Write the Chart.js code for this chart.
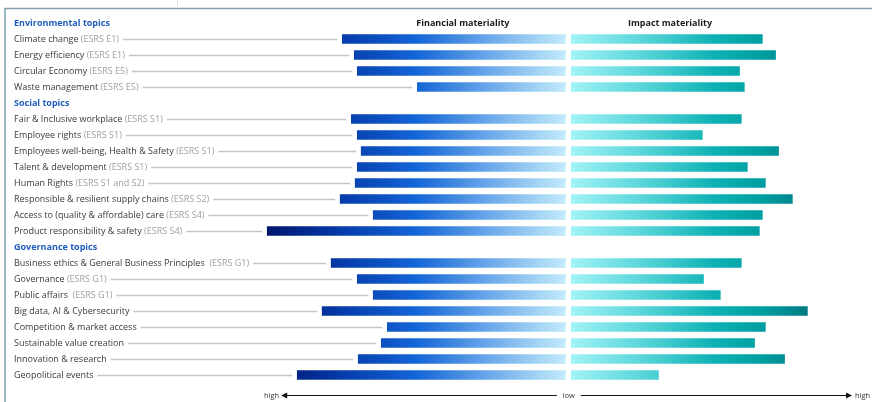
<!DOCTYPE html>
<html><head><meta charset="utf-8">
<script src="https://cdn.jsdelivr.net/npm/chart.js@4.4.1/dist/chart.umd.min.js"></script>
<style>html,body{margin:0;padding:0;background:#fff;overflow:hidden}</style>
</head><body>
<canvas id="c" width="872" height="402"></canvas>
<script>
// ---- data ----
const topics = [
  'Environmental topics',
  'Climate change','Energy efficiency','Circular Economy','Waste management',
  'Social topics',
  'Fair & Inclusive workplace','Employee rights','Employees well-being, Health & Safety','Talent & development',
  'Human Rights','Responsible & resilient supply chains','Access to (quality & affordable) care','Product responsibility & safety',
  'Governance topics',
  'Business ethics & General Business Principles','Governance','Public affairs','Big data, AI & Cybersecurity',
  'Competition & market access','Sustainable value creation','Innovation & research','Geopolitical events'
];
const esrsCodes = [
  '',
  '(ESRS E1)','(ESRS E1)','(ESRS E5)','(ESRS E5)',
  '',
  '(ESRS S1)','(ESRS S1)','(ESRS S1)','(ESRS S1)',
  '(ESRS S1 and S2)','(ESRS S2)','(ESRS S4)','(ESRS S4)',
  '',
  ' (ESRS G1)','(ESRS G1)',' (ESRS G1)','',
  '','','',''
];
const sectionHeaders = ['Environmental topics','Social topics','Governance topics'];
const financialMateriality = [
  null, 7.5, 7.1, 7.0, 5.0,
  null, 7.2, 7.0, 6.87, 7.0, 7.07, 7.57, 6.47, 10.0,
  null, 7.87, 7.0, 6.47, 8.17, 6.0, 6.2, 6.97, 9.0
];
const impactMateriality = [
  null, 6.43, 6.87, 5.67, 5.83,
  null, 5.73, 4.43, 6.97, 5.93, 6.53, 7.43, 6.43, 6.33,
  null, 5.73, 4.47, 5.03, 7.93, 6.53, 6.17, 7.17, 2.97
];
const axisLabels = ['high','low','high'];
const panelTitles = ['Financial materiality','Impact materiality'];

// ---- chart ----
const GAP_L = 0.08, GAP_R = 0.05;
const finBars = financialMateriality.map(v => v == null ? null : [-GAP_L, -GAP_L - v]);
const impBars = impactMateriality.map(v => v == null ? null : [GAP_R, GAP_R + v]);

function finGradient(c) {
  const ch = c.chart; if (!ch.chartArea) return '#1565d6';
  const sx = ch.scales.x;
  const g = ch.ctx.createLinearGradient(sx.getPixelForValue(-10.1), 0, sx.getPixelForValue(0), 0);
  g.addColorStop(0, '#00156c');
  g.addColorStop(0.22, '#0436a4');
  g.addColorStop(0.5, '#1465d8');
  g.addColorStop(0.78, '#7ab4ec');
  g.addColorStop(1, '#c6eefc');
  return g;
}
function impGradient(c) {
  const ch = c.chart; if (!ch.chartArea) return '#00aaaa';
  const sx = ch.scales.x;
  const g = ch.ctx.createLinearGradient(sx.getPixelForValue(0), 0, sx.getPixelForValue(8.0), 0);
  g.addColorStop(0, '#a4f4f8');
  g.addColorStop(0.3, '#5ad6da');
  g.addColorStop(0.6, '#0fb2b4');
  g.addColorStop(0.8, '#00a0a2');
  g.addColorStop(1, '#007a80');
  return g;
}

const overlay = {
  id: 'overlay',
  beforeDatasetsDraw(chart) {
    const ctx = chart.ctx, sx = chart.scales.x, sy = chart.scales.y;
    ctx.save();
    // frame
    ctx.strokeStyle = '#7f9fad'; ctx.lineWidth = 1.5;
    ctx.beginPath(); ctx.moveTo(5, 402); ctx.lineTo(5, 8.5); ctx.lineTo(872, 8.5); ctx.stroke();
    ctx.strokeStyle = '#e2e2e2'; ctx.lineWidth = 1;
    ctx.beginPath(); ctx.moveTo(177.5, 0); ctx.lineTo(177.5, 6); ctx.stroke();

    ctx.textBaseline = 'middle';
    topics.forEach((t, i) => {
      const y = sy.getPixelForValue(i) + 0.5;
      if (sectionHeaders.includes(t)) {
        ctx.font = 'bold 9px "Open Sans"';
        ctx.fillStyle = '#1d5cbd';
        ctx.fillText(t, 14, y);
        return;
      }
      ctx.font = '9px "Open Sans"';
      ctx.fillStyle = '#3a3a3a';
      ctx.fillText(t, 14, y);
      let x = 14 + ctx.measureText(t).width;
      if (esrsCodes[i]) {
        ctx.fillStyle = '#a0a0a0';
        const s = ' ' + esrsCodes[i];
        ctx.fillText(s, x, y);
        x += ctx.measureText(s).width;
      }
      const barLeft = sx.getPixelForValue(-GAP_L - financialMateriality[i]);
      ctx.strokeStyle = '#c6c6c6'; ctx.lineWidth = 1.5;
      ctx.beginPath(); ctx.moveTo(x + 4, y); ctx.lineTo(barLeft - 4, y); ctx.stroke();
    });

    // panel titles
    ctx.font = 'bold 9px "Open Sans"';
    ctx.fillStyle = '#1a1a1a';
    ctx.textAlign = 'center';
    const yT = sy.getPixelForValue(0) + 0.5;
    ctx.fillText(panelTitles[0], sx.getPixelForValue(-3.53), yT);
    ctx.fillText(panelTitles[1], sx.getPixelForValue(3.37), yT);

    // bottom axis
    const ya = 395.5;
    const xl = sx.getPixelForValue(-9.45), x0 = sx.getPixelForValue(0), xr = sx.getPixelForValue(9.3);
    ctx.strokeStyle = '#111'; ctx.fillStyle = '#111'; ctx.lineWidth = 1;
    ctx.beginPath(); ctx.moveTo(xl, ya); ctx.lineTo(x0 - 12, ya); ctx.stroke();
    ctx.beginPath(); ctx.moveTo(x0 + 12, ya); ctx.lineTo(xr, ya); ctx.stroke();
    ctx.beginPath(); ctx.moveTo(xl - 4, ya); ctx.lineTo(xl + 2, ya - 3); ctx.lineTo(xl + 2, ya + 3); ctx.closePath(); ctx.fill();
    ctx.beginPath(); ctx.moveTo(xr + 4, ya); ctx.lineTo(xr - 2, ya - 3); ctx.lineTo(xr - 2, ya + 3); ctx.closePath(); ctx.fill();
    ctx.font = '7.5px "Open Sans"'; ctx.fillStyle = '#333';
    ctx.textAlign = 'right'; ctx.fillText(axisLabels[0], xl - 6, ya);
    ctx.textAlign = 'center'; ctx.fillText(axisLabels[1], x0, ya);
    ctx.textAlign = 'left'; ctx.fillText(axisLabels[2], xr + 7, ya);
    ctx.restore();
  }
};

new Chart(document.getElementById('c'), {
  type: 'bar',
  data: {
    labels: topics,
    datasets: [
      { label: panelTitles[0], data: finBars, backgroundColor: finGradient,
        borderColor: 'rgba(255,255,255,0.45)', borderWidth: 1, borderSkipped: false,
        barThickness: 11, grouped: false },
      { label: panelTitles[1], data: impBars, backgroundColor: impGradient,
        borderColor: 'rgba(255,255,255,0.45)', borderWidth: 1, borderSkipped: false,
        barThickness: 11, grouped: false }
    ]
  },
  options: {
    indexAxis: 'y',
    responsive: false,
    animation: false,
    layout: { padding: { top: 15, bottom: 19, left: 0, right: 0 } },
    scales: {
      x: { type: 'linear', min: -18.95, max: 10.1, display: false },
      y: { display: false, offset: true }
    },
    plugins: { legend: { display: false }, tooltip: { enabled: false } }
  },
  plugins: [overlay]
});
</script>
</body></html>
